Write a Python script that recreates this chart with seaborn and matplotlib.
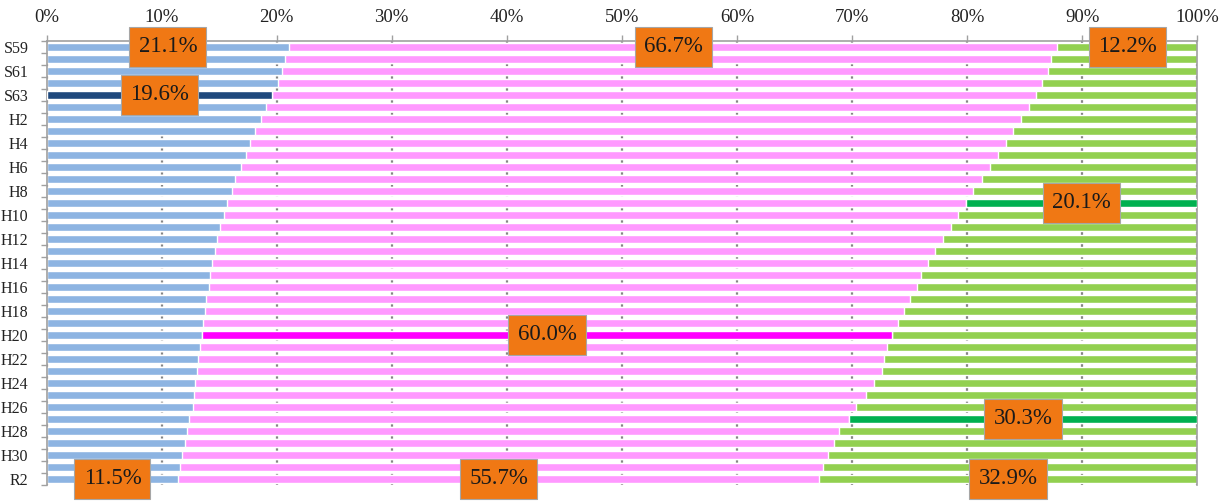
import numpy as np
import pandas as pd
import matplotlib
matplotlib.use("Agg")
import matplotlib.pyplot as plt
import seaborn as sns

# ---------------- data ----------------
categories = ["S59", "S60", "S61", "S62", "S63",
              "H1", "H2", "H3", "H4", "H5", "H6", "H7", "H8", "H9", "H10",
              "H11", "H12", "H13", "H14", "H15", "H16", "H17", "H18", "H19", "H20",
              "H21", "H22", "H23", "H24", "H25", "H26", "H27", "H28", "H29", "H30",
              "R1", "R2"]

blue = [21.1, 20.7, 20.5, 20.1, 19.6,
        19.1, 18.6, 18.1, 17.7, 17.3, 16.9, 16.4, 16.1, 15.7, 15.4,
        15.1, 14.8, 14.6, 14.4, 14.2, 14.1, 13.9, 13.8, 13.6, 13.5,
        13.3, 13.2, 13.1, 12.9, 12.8, 12.7, 12.4, 12.2, 12.0, 11.8,
        11.6, 11.46]

pink = [66.7, 66.6, 66.5, 66.4, 66.4,
        66.3, 66.1, 65.9, 65.7, 65.4, 65.1, 64.9, 64.4, 64.2, 63.8,
        63.5, 63.1, 62.6, 62.2, 61.8, 61.5, 61.1, 60.7, 60.4, 60.0,
        59.7, 59.6, 59.5, 59.0, 58.4, 57.6, 57.3, 56.7, 56.4, 56.1,
        55.9, 55.67]

green = [12.2, 12.7, 13.0, 13.5, 14.0,
         14.6, 15.3, 16.0, 16.6, 17.3, 18.0, 18.7, 19.5, 20.1, 20.8,
         21.4, 22.1, 22.8, 23.4, 24.0, 24.4, 25.0, 25.5, 26.0, 26.5,
         27.0, 27.2, 27.4, 28.1, 28.8, 29.7, 30.3, 31.1, 31.6, 32.1,
         32.5, 32.87]

x_ticks = [0, 10, 20, 30, 40, 50, 60, 70, 80, 90, 100]

highlights = [("S63", "blue"), ("H9", "green"), ("H20", "pink"), ("H27", "green")]
annotations = [("S59", "blue"), ("S59", "pink"), ("S59", "green"),
               ("S63", "blue"), ("H9", "green"), ("H20", "pink"),
               ("H27", "green"), ("R2", "blue"), ("R2", "pink"), ("R2", "green")]

# ---------------- styling ----------------
base_colors = {"blue": "#8DB4E2", "pink": "#FF99FF", "green": "#92D050"}
hl_colors = {"blue": "#1F497D", "pink": "#FF00FF", "green": "#00B050"}

sns.set_theme(style="white")
plt.rcParams["font.family"] = ["Liberation Serif", "DejaVu Serif"]

df = pd.DataFrame({"cat": categories, "blue": blue, "pink": pink, "green": green})
df["c1"] = df["blue"]
df["c2"] = df["blue"] + df["pink"]
df["c3"] = df["blue"] + df["pink"] + df["green"]

W, H = 1228, 503
fig = plt.figure(figsize=(W / 100, H / 100), dpi=100)
ax = fig.add_axes([46.5 / W, 1 - 485 / H, (1197.3 - 46.5) / W, (485 - 41) / H])

bw = 0.64
sns.barplot(data=df, y="cat", x="c3", orient="h", color=base_colors["green"],
            saturation=1, width=bw, ax=ax, order=categories, errorbar=None)
sns.barplot(data=df, y="cat", x="c2", orient="h", color=base_colors["pink"],
            saturation=1, width=bw, ax=ax, order=categories, errorbar=None)
sns.barplot(data=df, y="cat", x="c1", orient="h", color=base_colors["blue"],
            saturation=1, width=bw, ax=ax, order=categories, errorbar=None)

starts = {"blue": df["c1"] * 0, "pink": df["c1"], "green": df["c2"]}
for cat, s in highlights:
    i = categories.index(cat)
    ax.barh(i, df[s].iloc[i], left=starts[s].iloc[i], height=0.74,
            color=hl_colors[s], zorder=3)

for cat, s in annotations:
    i = categories.index(cat)
    v = df[s].iloc[i]
    xc = starts[s].iloc[i] + v / 2
    ax.text(xc, i, f"{v:.1f}%", ha="center", va="center", fontsize=16.5,
            color="#1A1A1A", zorder=5, clip_on=False,
            bbox=dict(boxstyle="square,pad=0.4", fc="#F07814",
                      ec="#A6A6A6", lw=0.8))

# ---------------- axes ----------------
ax.set_xlim(0, 100)
ax.set_ylim(len(categories) - 0.5, -0.5)
ax.set_xlabel("")
ax.set_ylabel("")

ax.xaxis.tick_top()
ax.set_xticks(x_ticks)
ax.set_xticklabels([f"{t}%" for t in x_ticks])
ax.tick_params(axis="x", which="major", length=4, width=1, color="#A0A0A0",
               pad=7, labelsize=13.5, direction="out", labelcolor="#222222")

ax.set_yticks(range(0, len(categories), 2))
ax.set_yticklabels(categories[::2])
ax.set_yticks(np.arange(-0.5, len(categories), 1), minor=True)
ax.tick_params(axis="y", which="major", length=0, pad=13, labelsize=11.5,
               labelcolor="#222222")
ax.tick_params(axis="y", which="minor", length=4, width=1, color="#A0A0A0",
               direction="out", left=True)

ax.xaxis.grid(True, linestyle=(0, (5, 1.5)), color="#858585", lw=1.6)
ax.yaxis.grid(False)
ax.set_axisbelow(True)

for side in ["top", "left", "right"]:
    ax.spines[side].set_visible(True)
    ax.spines[side].set_color("#A0A0A0")
    ax.spines[side].set_linewidth(1.2)
ax.spines["bottom"].set_visible(False)

fig.savefig("out.png", dpi=100)
